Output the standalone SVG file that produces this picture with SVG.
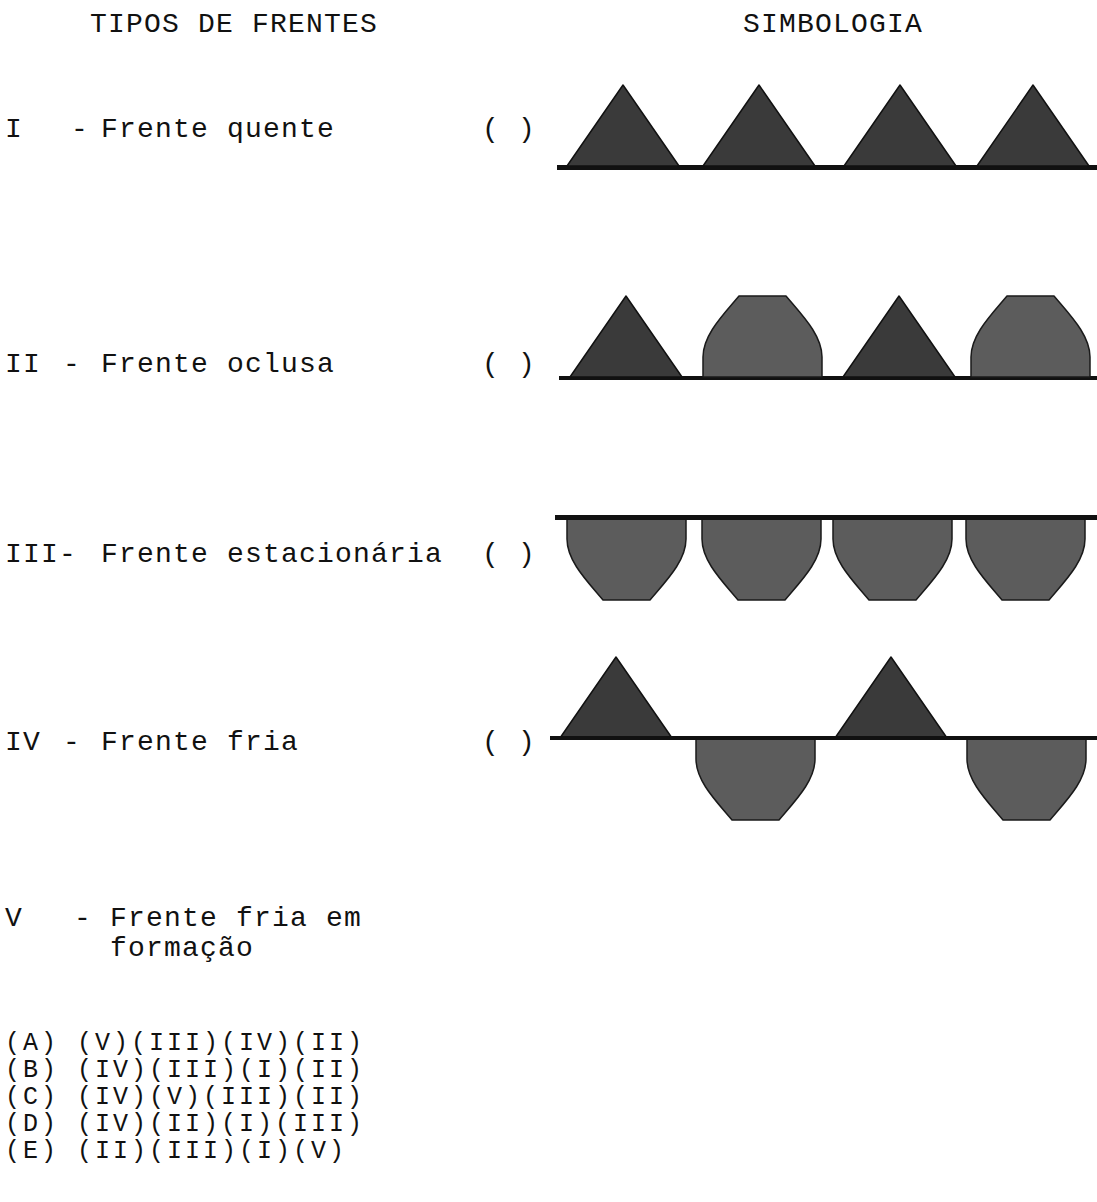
<svg xmlns="http://www.w3.org/2000/svg" xmlns:xlink="http://www.w3.org/1999/xlink" width="1097" height="1202" viewBox="0 0 1097 1202">
  <style>
    .t { font-family: "Liberation Mono", "DejaVu Sans Mono", monospace; font-size: 28px; letter-spacing: 1.2px; fill: #111; }
    .opt { font-family: "Liberation Mono", "DejaVu Sans Mono", monospace; font-size: 25px; letter-spacing: 3px; fill: #111; }
    .line { fill: #111; }
    .tri { fill: #3a3a3a; stroke: #111; stroke-width: 1.5; stroke-linejoin: round; }
    .bell { fill: #5c5c5c; stroke: #1a1a1a; stroke-width: 1.5; stroke-linejoin: round; }
  </style>
  <defs>
    <!-- warm-front style triangle, base on y=0, pointing up -->
    <path id="tri" d="M0,0 L56,-81 L112,0 Z"/>
    <!-- rounded cap, base on y=0, pointing up -->
    <path id="bell" d="M0,0 V-20 C0,-42 20,-62 36,-81 H83 C99,-62 119,-42 119,-20 V0 Z"/>
  </defs>

  <rect width="1097" height="1202" fill="#fff"/>

  <!-- column headings -->
  <g id="headings">
    <text class="t" x="90" y="32">TIPOS DE FRENTES</text>
    <text class="t" x="743" y="32">SIMBOLOGIA</text>
  </g>

  <!-- I: triangles only -->
  <g id="row-1">
    <text class="t" x="5" y="137">I</text>
    <text class="t" x="71" y="137">-</text>
    <text class="t" x="101" y="137">Frente quente</text>
    <text class="t" x="482" y="137" xml:space="preserve">( )</text>
    <g id="symbol-1">
      <rect class="line" x="557" y="165" width="540" height="5"/>
      <use href="#tri" class="tri" x="567" y="166"/>
      <use href="#tri" class="tri" x="703" y="166"/>
      <use href="#tri" class="tri" x="844" y="166"/>
      <use href="#tri" class="tri" x="977" y="166"/>
    </g>
  </g>

  <!-- II: alternating triangles and caps, same side -->
  <g id="row-2">
    <text class="t" x="5" y="372">II</text>
    <text class="t" x="63" y="372">-</text>
    <text class="t" x="101" y="372">Frente oclusa</text>
    <text class="t" x="482" y="372" xml:space="preserve">( )</text>
    <g id="symbol-2">
      <rect class="line" x="559" y="376" width="538" height="4"/>
      <use href="#tri" class="tri" x="570" y="377"/>
      <use href="#bell" class="bell" x="703" y="377"/>
      <use href="#tri" class="tri" x="843" y="377"/>
      <use href="#bell" class="bell" x="971" y="377"/>
    </g>
  </g>

  <!-- III: caps hanging below the line -->
  <g id="row-3">
    <text class="t" x="5" y="562">III-</text>
    <text class="t" x="101" y="562">Frente estacionária</text>
    <text class="t" x="482" y="562" xml:space="preserve">( )</text>
    <g id="symbol-3">
      <use href="#bell" class="bell" transform="translate(567,519) scale(1,-1)"/>
      <use href="#bell" class="bell" transform="translate(702,519) scale(1,-1)"/>
      <use href="#bell" class="bell" transform="translate(833,519) scale(1,-1)"/>
      <use href="#bell" class="bell" transform="translate(966,519) scale(1,-1)"/>
      <rect class="line" x="555" y="515" width="542" height="5"/>
    </g>
  </g>

  <!-- IV: triangles above, caps below -->
  <g id="row-4">
    <text class="t" x="5" y="750">IV</text>
    <text class="t" x="63" y="750">-</text>
    <text class="t" x="101" y="750">Frente fria</text>
    <text class="t" x="482" y="750" xml:space="preserve">( )</text>
    <g id="symbol-4">
      <use href="#tri" class="tri" x="560" y="738"/>
      <use href="#tri" class="tri" x="835" y="738"/>
      <use href="#bell" class="bell" transform="translate(696,739) scale(1,-1)"/>
      <use href="#bell" class="bell" transform="translate(967,739) scale(1,-1)"/>
      <rect class="line" x="550" y="736" width="547" height="4" fill="#222"/>
    </g>
  </g>

  <!-- V: no symbol -->
  <g id="row-5">
    <text class="t" x="5" y="926">V</text>
    <text class="t" x="74" y="926">-</text>
    <text class="t" x="110" y="926">Frente fria em</text>
    <text class="t" x="110" y="956">formação</text>
  </g>

  <!-- answer choices -->
  <g id="options">
    <text class="opt" x="5" y="1050" xml:space="preserve">(A) (V)(III)(IV)(II)</text>
    <text class="opt" x="5" y="1077" xml:space="preserve">(B) (IV)(III)(I)(II)</text>
    <text class="opt" x="5" y="1104" xml:space="preserve">(C) (IV)(V)(III)(II)</text>
    <text class="opt" x="5" y="1131" xml:space="preserve">(D) (IV)(II)(I)(III)</text>
    <text class="opt" x="5" y="1158" xml:space="preserve">(E) (II)(III)(I)(V)</text>
  </g>
</svg>
